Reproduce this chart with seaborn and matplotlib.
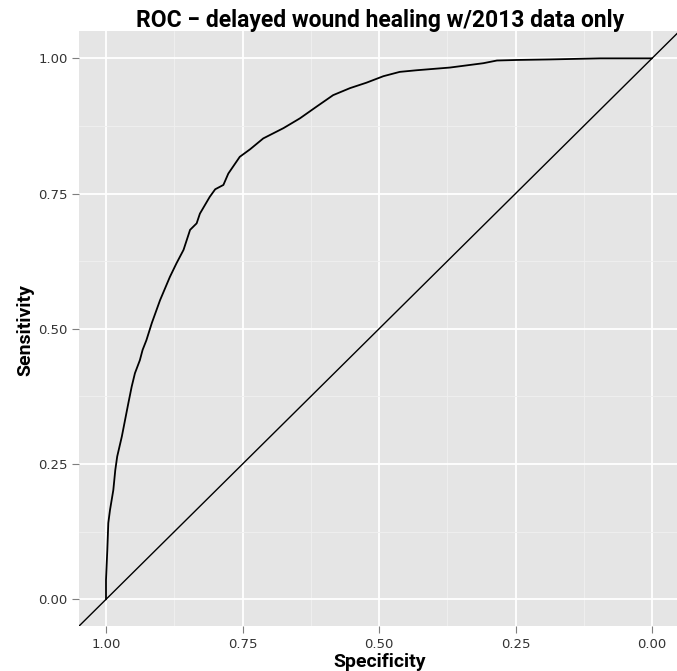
import matplotlib
matplotlib.use("Agg")
import matplotlib.pyplot as plt
import seaborn as sns
import pandas as pd
import numpy as np

specificity = [1.000, 1.000, 0.9976, 0.9958, 0.9927, 0.9866, 0.983, 0.9795, 0.971, 0.965,
               0.959, 0.953, 0.947, 0.938, 0.933, 0.926, 0.916, 0.901, 0.883, 0.871,
               0.858, 0.846, 0.834, 0.828, 0.810, 0.800, 0.785, 0.776, 0.755, 0.736,
               0.712, 0.675, 0.645, 0.614, 0.584, 0.553, 0.523, 0.492, 0.462, 0.431,
               0.370, 0.309, 0.284, 0.248, 0.187, 0.095, 0.0]
sensitivity = [0.0, 0.036, 0.091, 0.141, 0.165, 0.202, 0.239, 0.264, 0.301, 0.332,
               0.363, 0.393, 0.418, 0.442, 0.461, 0.479, 0.511, 0.553, 0.596, 0.621,
               0.646, 0.683, 0.695, 0.713, 0.744, 0.758, 0.766, 0.787, 0.818, 0.832,
               0.852, 0.871, 0.889, 0.911, 0.932, 0.945, 0.955, 0.967, 0.975, 0.978,
               0.983, 0.991, 0.996, 0.997, 0.998, 1.0, 1.0]
ticks = [1.00, 0.75, 0.50, 0.25, 0.00]
tick_labels = ["1.00", "0.75", "0.50", "0.25", "0.00"]
yticks = [0.00, 0.25, 0.50, 0.75, 1.00]
ytick_labels = ["0.00", "0.25", "0.50", "0.75", "1.00"]

df = pd.DataFrame({"Specificity": specificity, "Sensitivity": sensitivity})

sns.set_style("darkgrid", {"axes.facecolor": "#E5E5E5", "grid.color": "white"})
plt.rcParams["font.family"] = ["Roboto", "DejaVu Sans"]

fig = plt.figure(figsize=(6.77, 6.71), dpi=100)
ax = fig.add_axes([78.7 / 677, (671 - 626.4) / 671, (679.3 - 78.7) / 677, (626.4 - 31.3) / 671])

sns.lineplot(data=df, x="Specificity", y="Sensitivity", sort=False, ax=ax,
             color="black", linewidth=1.3, estimator=None)
ax.axline((1, 0), (0, 1), color="black", linewidth=1.0)

ax.set_xlim(1.05, -0.05)
ax.set_ylim(-0.05, 1.05)
ax.set_xticks(ticks)
ax.set_xticklabels(tick_labels, family=["DejaVu Sans"])
ax.set_yticks(yticks)
ax.set_yticklabels(ytick_labels, family=["DejaVu Sans"])
ax.set_xticks([0.875, 0.625, 0.375, 0.125], minor=True)
ax.set_yticks([0.125, 0.375, 0.625, 0.875], minor=True)
ax.grid(which="major", color="white", linewidth=1.3)
ax.grid(which="minor", color="#F0F0F0", linewidth=0.6)
ax.tick_params(which="minor", length=0)
ax.tick_params(which="major", length=5, width=0.8, color="#7F7F7F",
               labelsize=9.5, labelcolor="#333333", pad=3, bottom=True, left=True)
for s in ax.spines.values():
    s.set_visible(False)

ax.set_xlabel("")
ax.set_ylabel("")
fig.text(380 / 677, 1 - 667 / 671, "Specificity", ha="center", va="baseline",
         fontsize=14, fontweight="bold", color="black")
fig.text(25 / 677, 1 - 330 / 671, "Sensitivity", ha="center", va="center",
         rotation=90, fontsize=14, fontweight="bold", color="black")
fig.text(380 / 677, 1 - 27 / 671, "ROC \u2212 delayed wound healing w/2013 data only",
         ha="center", va="baseline", fontsize=16.5, fontweight="bold", color="black")

fig.savefig("out.png", dpi=100)
